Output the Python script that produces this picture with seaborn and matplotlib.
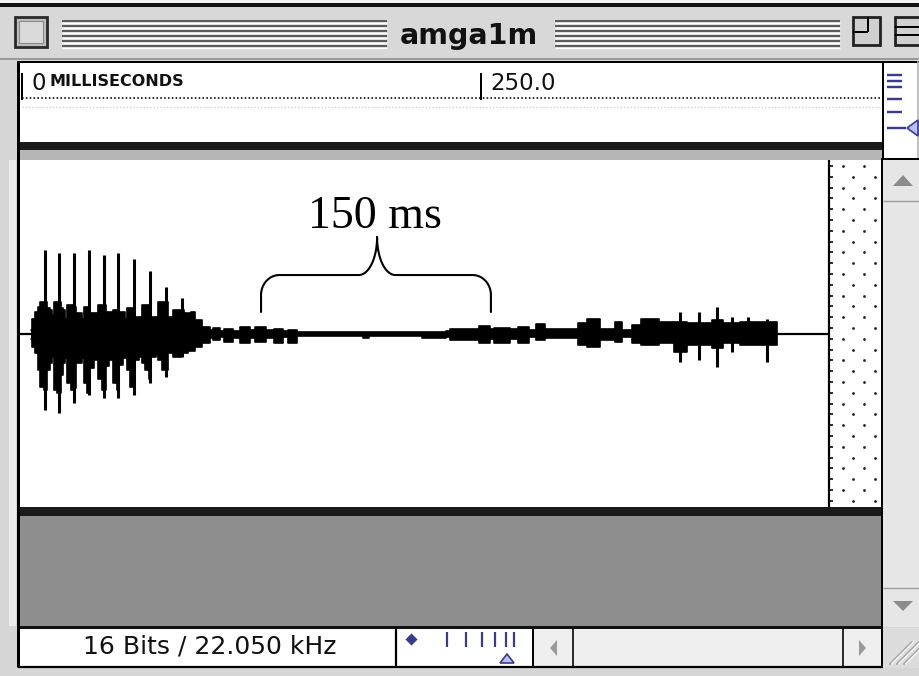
import numpy as np
import matplotlib
matplotlib.use("Agg")
import matplotlib.pyplot as plt
from matplotlib.patches import Rectangle, Polygon
import seaborn as sns

# ---------------- data ----------------
window_title = "amga1m"
ruler_ticks = [0, 250]
ruler_labels = ["0", "250.0"]
ruler_unit = "MILLISECONDS"
status_text = "16 Bits / 22.050 kHz"
annotation_text = "150 ms"
brace_start = 130.2   # ms
brace_end = 255.4     # ms
brace_mid = 193.4     # ms

# waveform envelope (time in ms, amplitude in % of full scale)
env_t = [5.0, 5.5, 7.0, 8.5, 10.0, 12.0, 13.5, 15.0, 16.2, 17.2, 19.0, 21.0, 22.5,
         23.5, 24.5, 26.5, 28.0, 29.5, 31.0, 32.5, 33.5, 35.5, 37.0, 39.0, 40.7,
         41.6, 43.5, 45.5, 47.5, 48.8, 49.7, 51.5, 53.0, 55.0, 56.1, 57.0, 59.0,
         61.0, 63.5, 65.2, 67.0, 69.0, 70.5, 73.0, 74.3, 76.0, 78.0, 79.5, 82.4,
         86.5, 88.0, 90.5, 92.0, 94.2, 97.9, 102.4,
         104, 108, 110, 115, 119, 124, 127, 133, 137, 142, 145, 150, 186, 189, 193,
         218, 231, 233, 249, 255, 257, 266, 270, 276, 280, 285, 303, 308, 315, 323,
         327, 332, 337, 347, 355, 362, 376, 382, 391, 411]
env_hi = [2, 8.6, 12.5, 15.4, 18.3, 18.3, 14.5, 13.5, 10.6, 18.3, 18.3, 14.5, 13.5,
          8.6, 16.4, 16.4, 15.4, 11.6, 11.6, 8.6, 15.4, 15.4, 11.6, 11.6, 8.6,
          16.4, 16.4, 12.5, 12.5, 8.6, 13.5, 13.5, 12.5, 12.5, 8.6, 14.5, 14.5,
          9.6, 9.6, 16.4, 16.4, 16.4, 9.6, 9.6, 18.3, 18.3, 18.3, 9.6, 13.5,
          13.5, 11.6, 11.6, 12.5, 7.8, 3.9, 2.0,
          3.0, 1.5, 2.4, 1.5, 3.9, 1.8, 3.9, 1.8, 2.4, 1.5, 2.0, 1.1, 1.1, 1.1, 1.1,
          1.1, 1.5, 2.4, 4.3, 2.4, 3.0, 2.4, 3.9, 2.0, 5.5, 2.4, 5.8, 8.1, 2.4, 6.8,
          2.0, 4.9, 8.1, 6.8, 6.8, 5.8, 7.8, 5.8, 6.8, 0]
env_lo = [-3, -7.6, -11, -21, -30.6, -32.5, -21, -17, -13.3, -32.5, -34.4, -24, -17,
          -14.3, -28.6, -32.5, -31.6, -17, -17, -14.3, -28.6, -34.4, -20, -15.2, -14.3,
          -26, -32.5, -19, -15.2, -14.3, -28.6, -32.5, -18, -14.3, -14.3, -21, -30.6,
          -15, -13.3, -17.1, -21, -26, -13.3, -12.4, -15.2, -21, -21, -11.4, -13.3,
          -11.4, -11.4, -10, -10, -7.6, -5.7, -2.8,
          -3.7, -2.0, -4.7, -2.5, -5.7, -2.5, -4.7, -2.5, -5.3, -2.0, -5.3, -1.4, -2.8, -1.4, -1.2,
          -2.8, -2.0, -3.7, -5.3, -3.0, -5.7, -3.0, -5.7, -1.8, -3.7, -2.8, -6.6, -7.6, -3.7, -4.7,
          -1.8, -5.7, -6.6, -5.7, -10.4, -6.6, -8.5, -5.7, -6.6, 0]

# thin glottal spikes
spike_t = [12.5, 20.4, 28.5, 36.3, 44.7, 52.3, 61.0, 69.5, 78.3, 87.0,
           358.4, 368.7, 378.5, 386.7, 395.4, 405.8]
spike_hi = [48.0, 46.4, 46.4, 48.0, 45.1, 46.4, 43.2, 35.9, 26.6, 20.2,
            12.5, 12.5, 15.4, 9.7, 9.7, 8.1]
spike_lo = [-44.0, -45.9, -40.1, -35.3, -37.3, -37.3, -35.3, -28.6, -24.8, -13.3,
            -16.2, -15.2, -19.1, -10.4, -5.7, -16.2]

# ---------------- layout constants (pixels) ----------------
W, H = 920, 676
PX_PER_MS = 1.836
X0_PX = 22.0


def px_to_ms(x):
    return (x - X0_PX) / PX_PER_MS


def fig_rect(x0, y0, x1, y1):
    return [x0 / W, (H - y1) / H, (x1 - x0) / W, (y1 - y0) / H]


sns.set_style("white")
plt.rcParams["font.family"] = ["DejaVu Sans"]

fig = plt.figure(figsize=(W / 100, H / 100), dpi=100)
bg = fig.add_axes([0, 0, 1, 1])
bg.set_xlim(0, W)
bg.set_ylim(H, 0)
bg.axis("off")

PT = 0.72  # one pixel in points


def rect(x0, y0, x1, y1, fc, ec="none", lw=0, z=1):
    bg.add_patch(Rectangle((x0, y0), x1 - x0, y1 - y0, facecolor=fc,
                           edgecolor=ec, linewidth=lw, zorder=z))


def hline(y, x0, x1, c="black", lw=1, z=3, **kw):
    bg.plot([x0, x1], [y, y], color=c, lw=lw * PT, zorder=z,
            solid_capstyle="butt", **kw)


def vline(x, y0, y1, c="black", lw=1, z=3, **kw):
    bg.plot([x, x], [y0, y1], color=c, lw=lw * PT, zorder=z,
            solid_capstyle="butt", **kw)


# window frame
rect(0, 0, W, H, "#d6d6d6", z=0)
rect(0, 0, W, 3, "#f2f2f2", z=1)
rect(0, 3, W, 7, "#111111", z=2)
rect(9, 160, 16, 626, "#ebebeb", z=1)

# title bar
rect(0, 7, W, 58, "#d8d8d8", z=1)
hline(58.5, 0, W, c="#9a9a9a", lw=2)
for yy in [21, 26, 31, 36, 41, 46]:
    hline(yy, 62, 387, c="#4e4e4e", lw=1.8)
    hline(yy, 555, 840, c="#4e4e4e", lw=1.8)
    hline(yy + 2.0, 62, 387, c="#ffffff", lw=1.4)
    hline(yy + 2.0, 555, 840, c="#ffffff", lw=1.4)
bg.text(469, 44, window_title, ha="center", va="baseline", fontsize=20.5,
        fontweight="bold", color="#111111", zorder=5)
# close box
rect(15, 17, 47, 47, "#bdbdbd", ec="#2a2a2a", lw=2.0, z=4)
rect(19, 21, 43, 43, "#dadada", ec="#8a8a8a", lw=0.8, z=4)
# zoom box
rect(853, 17, 880, 45, "#d0d0d0", ec="#222222", lw=2.0, z=4)
vline(868, 17, 32, lw=2, z=5)
hline(32, 853, 868, lw=2, z=5)
# collapse box
rect(895, 17, 925, 45, "#d0d0d0", ec="#222222", lw=2.0, z=4)
hline(27, 895, 920, lw=2, z=5)
hline(35, 895, 920, lw=2, z=5)

# ruler
rect(18, 61, 883, 142, "white", z=1)
hline(61.5, 17, 920, lw=2, z=3)
vline(18, 61, 667, lw=3, z=6)
rect(18, 142, 883, 150, "#1a1a1a", z=2)
rect(18, 150, 883, 160, "#b6b6b6", z=2)
hline(98, 22, 880, c="black", lw=1.6, z=3, linestyle=(0, (1, 1.4)))
hline(107, 22, 880, c="#d0d0d0", lw=1.4, z=3, linestyle=(0, (1, 1.4)))

rul = fig.add_axes(fig_rect(18, 61, 883, 142))
rul.set_xlim(px_to_ms(18), px_to_ms(883))
rul.set_ylim(142, 61)
rul.axis("off")
rul.vlines(ruler_ticks, 73, 100, colors="black", lw=2 * PT)
for t, lab in zip(ruler_ticks, ruler_labels):
    rul.annotate(lab, (t, 90), xytext=(6.5, 0), textcoords="offset points",
                 ha="left", va="baseline", fontsize=16.5, color="#111111")
rul.annotate(ruler_unit, (ruler_ticks[0], 86), xytext=(20, 0),
             textcoords="offset points", ha="left", va="baseline",
             fontsize=11.5, fontweight="bold", color="#111111")

# ruler right column (level meter)
rect(883, 61, 920, 158, "white", z=1)
vline(883.5, 61, 158, lw=2, z=3)
vline(918, 61, 158, c="#b0b0b0", lw=1.5, z=3)
blue = "#3a3a8e"
for yy, x1 in [(75, 902), (81, 902), (87, 902), (99, 902), (112, 902), (128, 906)]:
    hline(yy, 887, x1, c=blue, lw=2.4, z=4)
bg.add_patch(Polygon([[907, 128], [918, 120], [918, 136]], closed=True,
                     facecolor="#b9c1f2", edgecolor=blue, lw=1.2, zorder=4))

# waveform area + dotted margin
rect(18, 160, 829, 507, "white", z=1)
rect(829, 160, 883, 507, "white", z=1)
vline(829.5, 160, 507, lw=2.2, z=4)
rows = np.arange(166, 507, 10.8)
for i, yy in enumerate(rows):
    xs = [842.7, 864.3] if i % 2 == 0 else [853.5, 875.0]
    bg.scatter(xs, [yy, yy], s=4, color="#222222", zorder=4, linewidths=0)
    hline(yy, 829, 833, lw=1.6, z=4)
vline(882.5, 158, 667, lw=2, z=6)

# right scrollbar
rect(883, 158, 920, 627, "#e6e6e6", z=1)
hline(159, 883, 920, lw=2, z=3)
bg.add_patch(Polygon([[893, 186], [913, 186], [903, 175]], closed=True,
                     facecolor="#8c8c8c", edgecolor="none", zorder=4))
hline(201, 883, 920, c="#9c9c9c", lw=1.4)
hline(588, 883, 920, c="#9c9c9c", lw=1.4)
bg.add_patch(Polygon([[893, 601], [913, 601], [903, 611]], closed=True,
                     facecolor="#8c8c8c", edgecolor="none", zorder=4))

# lower panels
rect(18, 507, 883, 516, "#1a1a1a", z=2)
rect(18, 516, 883, 626, "#8e8e8e", z=1)
rect(18, 626, 883, 628.5, "#111111", z=2)

# status bar
rect(18, 628, 396, 666, "white", z=1)
bg.text(210, 646, status_text, ha="center", va="center", fontsize=18,
        color="#111111", zorder=5)
vline(396.5, 628, 667, lw=2.2, z=4)
rect(397, 628, 533, 666, "white", z=1)
bg.scatter([411], [638.5], marker="D", s=38, color=blue, zorder=5, linewidths=0)
for xx in [447, 466, 482, 495, 506, 514]:
    vline(xx, 632, 647, c=blue, lw=2.2, z=5)
bg.add_patch(Polygon([[500, 663], [514, 663], [507, 654]], closed=True,
                     facecolor="#b9c1f2", edgecolor=blue, lw=1.2, zorder=5))
vline(533, 628, 667, lw=2, z=4)
rect(533, 628, 882, 666, "#efefef", z=1)
vline(573, 628, 666, lw=1.6, z=4)
vline(843, 628, 666, lw=1.6, z=4)
bg.add_patch(Polygon([[550, 648], [557, 640], [557, 656]], closed=True,
                     facecolor="#9a9a9a", edgecolor="none", zorder=4))
bg.add_patch(Polygon([[866, 648], [859, 640], [859, 656]], closed=True,
                     facecolor="#9a9a9a", edgecolor="none", zorder=4))
hline(666.5, 18, 883, lw=2.2, z=4)
rect(883, 628, 920, 668, "#dcdcdc", z=1)
for off in [0, 7, 14]:
    bg.plot([890 + off, 912 + off], [664, 642], color="#a2a2a2", lw=1.4, zorder=4)
    bg.plot([891.5 + off, 913.5 + off], [664, 642], color="#f6f6f6", lw=1.0, zorder=4)

# ---------------- waveform (seaborn) ----------------
ax = fig.add_axes(fig_rect(18, 160, 829, 507))
ax.set_facecolor("none")
ax.set_xlim(px_to_ms(18), px_to_ms(829))
ax.set_ylim(-100, 100)

ax.axhline(0, color="black", lw=1.6, zorder=2)
ax.fill_between(env_t, env_lo, env_hi, step="post", color="black", lw=0, zorder=3)
sns.lineplot(x=env_t, y=env_hi, ax=ax, color="black", lw=1.2,
             drawstyle="steps-post", estimator=None, sort=False, zorder=3)
sns.lineplot(x=env_t, y=env_lo, ax=ax, color="black", lw=1.2,
             drawstyle="steps-post", estimator=None, sort=False, zorder=3)
ax.vlines(spike_t, spike_lo, spike_hi, colors="black", lw=2.2, zorder=4)


# brace annotation
def brace(x0, x1, xm, ybase, ybar, ypeak, rx=10.0, ry=11.5):
    xs, ys = [x0], [ybase]
    th = np.linspace(np.pi, np.pi / 2, 20)
    xs += list(x0 + rx + rx * np.cos(th)); ys += list(ybar - ry + ry * np.sin(th))
    ryc = ypeak - ybar
    th = np.linspace(1.5 * np.pi, 2 * np.pi, 20)
    xs += list(xm - rx + rx * np.cos(th)); ys += list(ypeak + ryc * np.sin(th))
    th = np.linspace(np.pi, 1.5 * np.pi, 20)
    xs += list(xm + rx + rx * np.cos(th)); ys += list(ypeak + ryc * np.sin(th))
    th = np.linspace(np.pi / 2, 0, 20)
    xs += list(x1 - rx + rx * np.cos(th)); ys += list(ybar - ry + ry * np.sin(th))
    xs.append(x1); ys.append(ybase)
    return xs, ys


bx, by = brace(brace_start, brace_end, brace_mid, 12.4, 33.7, 55.5)
ax.plot(bx, by, color="black", lw=1.5, zorder=5)
ax.text(brace_mid - 1.0, 67.5, annotation_text, ha="center", va="center",
        fontsize=33, family=["Liberation Serif", "DejaVu Serif"], color="black",
        zorder=5)

ax.set_xlabel("")
ax.set_ylabel("")
ax.axis("off")

fig.savefig("out.png", dpi=100)
